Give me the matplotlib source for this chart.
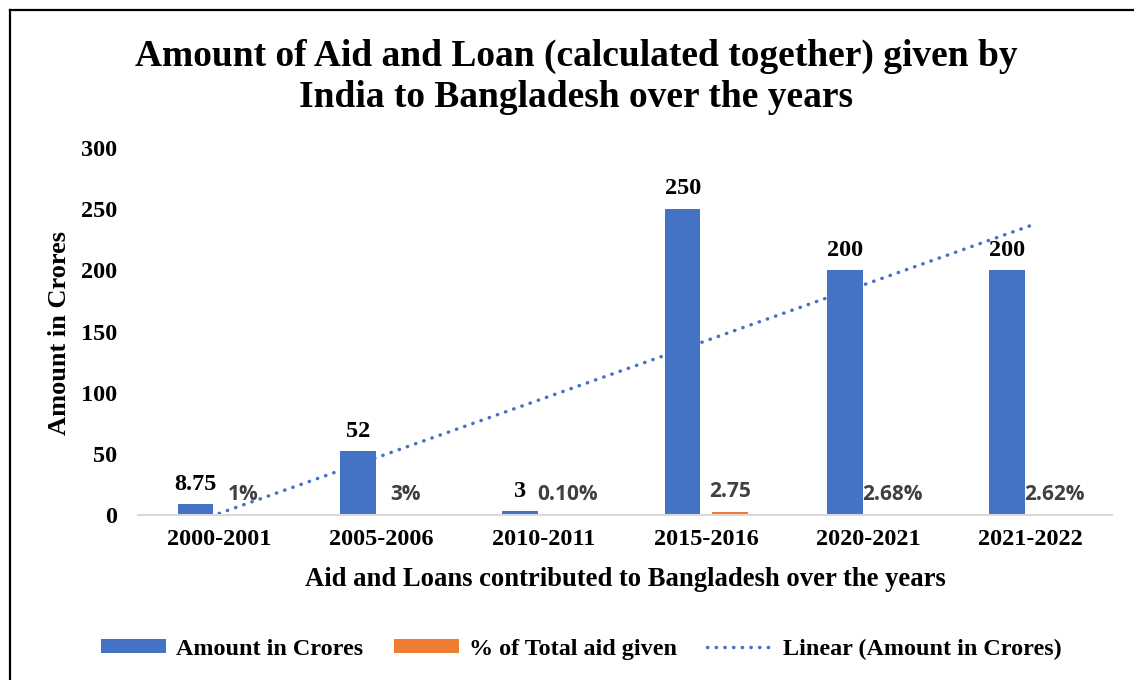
import numpy as np
import matplotlib
matplotlib.use("Agg")
import matplotlib.pyplot as plt
from matplotlib.lines import Line2D

# data
years = ["2000-2001", "2005-2006", "2010-2011", "2015-2016", "2020-2021", "2021-2022"]
amount = [8.75, 52, 3, 250, 200, 200]
share = [0.01, 0.03, 0.001, 2.75, 0.0268, 0.0262]
# excel style number formats used for the % series labels
share_fmt = ["0%", "0%", "0.00%", "0.00", "0.00%", "0.00%"]
yticks = [0, 50, 100, 150, 200, 250, 300]

blue = "#4472C4"
orange = "#ED7D31"
serif = "Liberation Serif"


def excel_fmt(v, f):
    if f.endswith("%"):
        dec = len(f.split(".")[1]) - 1 if "." in f else 0
        return f"{v * 100:.{dec}f}%"
    dec = len(f.split(".")[1]) if "." in f else 0
    return f"{v:.{dec}f}"


W, H = 1134, 680
fig = plt.figure(figsize=(W / 100, H / 100), dpi=100)
ax = fig.add_axes([138 / W, 1 - 515 / H, 974 / W, 367 / H])

x = np.arange(len(years))
off, bw = 0.145, 0.22
b1 = ax.bar(x - off, amount, bw, color=blue, label="Amount in Crores")
b2 = ax.bar(x + off, share, bw, color=orange, label="% of Total aid given")

# linear trendline over the amount series (excel uses x = 1..n)
k, c = np.polyfit(x + 1, amount, 1)
trend = k * (x + 1) + c
tl, = ax.plot(x, trend, color=blue, lw=2.5, linestyle=(0, (0.1, 2.4)),
              dash_capstyle="round", label="Linear (Amount in Crores)")

for xi, v in zip(x, amount):
    ax.annotate(f"{v:g}", (xi - off, v), xytext=(0, 7), textcoords="offset points",
                ha="center", va="bottom", fontsize=17.5, fontweight="bold",
                family=serif, color="black")
for xi, v, f in zip(x, share, share_fmt):
    ax.annotate(excel_fmt(v, f), (xi + off, v), xytext=(0, 7), textcoords="offset points",
                ha="center", va="bottom", fontsize=15, fontweight="bold",
                family="Open Sans", color="#404040")

ax.set_xlim(-0.5, len(years) - 0.5)
ax.set_ylim(0, 300)
ax.set_yticks(yticks)
ax.set_xticks(x)
ax.set_xticklabels(years)
for s in ["top", "right", "left"]:
    ax.spines[s].set_visible(False)
ax.spines["bottom"].set_color("#d9d9d9")
ax.spines["bottom"].set_linewidth(1.5)
ax.tick_params(axis="both", length=0, labelsize=17.5)
ax.tick_params(axis="x", pad=10)
ax.tick_params(axis="y", pad=15)
for lab in ax.get_xticklabels() + ax.get_yticklabels():
    lab.set_family(serif)
    lab.set_fontweight("bold")

fig.text(576 / W, 1 - 77 / H,
         "Amount of Aid and Loan (calculated together) given by\nIndia to Bangladesh over the years",
         ha="center", va="center", fontsize=27, fontweight="bold", family=serif,
         linespacing=1.22)
fig.text(625 / W, 1 - 580 / H, "Aid and Loans contributed to Bangladesh over the years",
         ha="center", va="center", fontsize=19.2, fontweight="bold", family=serif)
fig.text(60 / W, 1 - 333 / H, "Amount in Crores", rotation=90,
         ha="center", va="center", fontsize=19, fontweight="bold", family=serif)

fig.legend(handles=[b1, b2, tl], loc="center", bbox_to_anchor=(581 / W, 1 - 649 / H),
           ncol=3, frameon=False, prop={"family": serif, "weight": "bold", "size": 17.4},
           handlelength=2.7, handleheight=0.5, handletextpad=0.42, columnspacing=1.25)

# frame around the chart (left and top edges)
fig.add_artist(Line2D([9.5 / W, 9.5 / W], [0, 1 - 9.5 / H], transform=fig.transFigure,
                      color="black", lw=1.6))
fig.add_artist(Line2D([9.5 / W, 1], [1 - 9.5 / H, 1 - 9.5 / H], transform=fig.transFigure,
                      color="black", lw=1.6))

fig.savefig("out.png", dpi=100)
